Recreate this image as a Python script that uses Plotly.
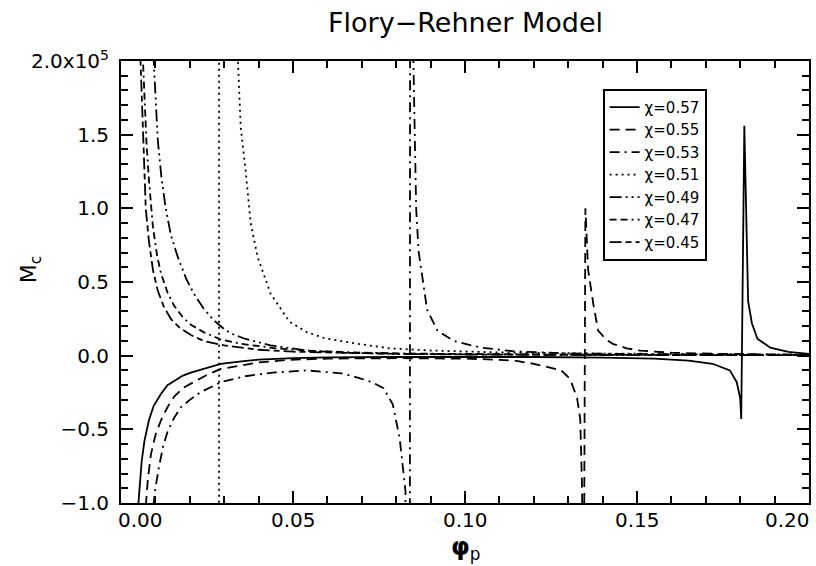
import plotly.graph_objects as go

# ---- data (M_c in units of 1e5) ----
chi_labels = ["χ=0.57", "χ=0.55", "χ=0.53", "χ=0.51", "χ=0.49", "χ=0.47", "χ=0.45"]

phi_057 = [0.0049, 0.0054, 0.0060, 0.0068, 0.0081, 0.0095, 0.0116, 0.0135, 0.0154, 0.0180,
           0.0203, 0.0250, 0.0290, 0.0350, 0.0400, 0.0500, 0.0600, 0.0800, 0.1000, 0.1200,
           0.1400, 0.1550, 0.1650, 0.1720, 0.1770, 0.1790, 0.1800, 0.1803, 0.1812, 0.1820,
           0.1823, 0.1834, 0.1850, 0.1887, 0.1940, 0.2000]
mc_057 = [-1.05, -0.88, -0.72, -0.58, -0.44, -0.34, -0.26, -0.20, -0.17, -0.135,
          -0.115, -0.08, -0.055, -0.038, -0.027, -0.017, -0.012, -0.009, -0.008, -0.009,
          -0.013, -0.020, -0.033, -0.055, -0.10, -0.18, -0.29, -0.43, 1.56, 0.71,
          0.37, 0.22, 0.115, 0.055, 0.025, 0.012]

phi_055 = [0.0072, 0.0078, 0.0087, 0.0100, 0.0116, 0.0135, 0.0154, 0.0180, 0.0203, 0.0250,
           0.0290, 0.0350, 0.0400, 0.0490, 0.0600, 0.0800, 0.1000, 0.1100, 0.1150, 0.1200,
           0.1240, 0.1280, 0.1306, 0.1326, 0.1335, 0.1340, 0.1345, 0.1350, 0.1358, 0.1373,
           0.1387, 0.1410, 0.1430, 0.1470, 0.1510, 0.1600, 0.1750, 0.2000]
mc_055 = [-1.02, -0.84, -0.67, -0.54, -0.44, -0.35, -0.28, -0.22, -0.19, -0.13,
          -0.09, -0.065, -0.046, -0.028, -0.020, -0.017, -0.020, -0.028, -0.036, -0.055,
          -0.075, -0.10, -0.16, -0.29, -0.43, -0.87, -2.0, 1.0, 0.58, 0.35,
          0.17, 0.11, 0.08, 0.05, 0.034, 0.02, 0.012, 0.006]

phi_053 = [0.0094, 0.0100, 0.0110, 0.0122, 0.0136, 0.0155, 0.0174, 0.0200, 0.0230, 0.0290,
           0.0360, 0.0440, 0.0540, 0.0640, 0.0690, 0.0730, 0.0763, 0.0790, 0.0810, 0.0820,
           0.0827, 0.0835, 0.0845, 0.0850, 0.0853, 0.0858, 0.0865, 0.0877, 0.0890, 0.0920,
           0.0967, 0.1045, 0.1140, 0.1300, 0.1500, 0.1750, 0.2000]
mc_053 = [-1.02, -0.90, -0.76, -0.62, -0.51, -0.42, -0.35, -0.30, -0.25, -0.18,
          -0.14, -0.115, -0.10, -0.12, -0.15, -0.18, -0.22, -0.33, -0.56, -0.76,
          -0.92, -30.0, 30.0, 2.0, 1.5, 1.0, 0.71, 0.53, 0.31, 0.17,
          0.10, 0.055, 0.03, 0.015, 0.01, 0.007, 0.005]

phi_051 = [0.0100, 0.0150, 0.0200, 0.0250, 0.0284, 0.0286, 0.0335, 0.0340, 0.0348, 0.0363,
           0.0377, 0.0397, 0.0435, 0.0490, 0.0540, 0.0590, 0.0690, 0.0780, 0.0900, 0.1100,
           0.1400, 0.1700, 0.2000]
mc_051 = [-4.5, -3.1, -2.9, -5.0, -40.0, 40.0, 2.1, 2.0, 1.55, 1.24,
          0.90, 0.67, 0.42, 0.23, 0.16, 0.12, 0.08, 0.05, 0.035, 0.022,
          0.014, 0.010, 0.008]

phi_049 = [0.0094, 0.0100, 0.0107, 0.0118, 0.0130, 0.0145, 0.0165, 0.0190, 0.0212, 0.0240,
           0.0270, 0.0300, 0.0320, 0.0360, 0.0435, 0.0540, 0.0650, 0.0800, 0.1000, 0.1300,
           0.1600, 0.2000]
mc_049 = [2.05, 1.75, 1.46, 1.20, 1.00, 0.82, 0.67, 0.52, 0.42, 0.32,
          0.24, 0.18, 0.15, 0.115, 0.07, 0.035, 0.020, 0.012, 0.008, 0.005,
          0.004, 0.003]

phi_047 = [0.0063, 0.0068, 0.0074, 0.0081, 0.0093, 0.0105, 0.0116, 0.0135, 0.0154, 0.0180,
           0.0203, 0.0240, 0.0290, 0.0350, 0.0450, 0.0550, 0.0700, 0.0900, 0.1100, 0.1400,
           0.1700, 0.2000]
mc_047 = [2.05, 1.75, 1.45, 1.20, 0.87, 0.68, 0.56, 0.43, 0.34, 0.26,
          0.21, 0.16, 0.11, 0.08, 0.05, 0.033, 0.020, 0.013, 0.009, 0.006,
          0.004, 0.003]

phi_045 = [0.0056, 0.0060, 0.0064, 0.0067, 0.0072, 0.0081, 0.0093, 0.0107, 0.0125, 0.0145,
           0.0170, 0.0203, 0.0240, 0.0300, 0.0400, 0.0500, 0.0650, 0.0800, 0.1000, 0.1300,
           0.1600, 0.2000]
mc_045 = [2.05, 1.75, 1.46, 1.25, 1.00, 0.78, 0.58, 0.44, 0.33, 0.25,
          0.19, 0.14, 0.10, 0.07, 0.04, 0.027, 0.017, 0.012, 0.008, 0.005,
          0.004, 0.003]

x_tick_vals = [0.00, 0.05, 0.10, 0.15, 0.20]
x_tick_text = ["0.00", "0.05", "0.10", "0.15", "0.20"]
y_tick_vals = [-1.0, -0.5, 0.0, 0.5, 1.0, 1.5, 2.0]
y_tick_text = ["−1.0", "−0.5", "0.0", "0.5", "1.0", "1.5", "2.0x10<sup>5</sup>"]

series_x = [phi_057, phi_055, phi_053, phi_051, phi_049, phi_047, phi_045]
series_y = [mc_057, mc_055, mc_053, mc_051, mc_049, mc_047, mc_045]
dashes = ["solid", "10px,6px", "10px,5px,2px,5px", "2px,4px",
          "12px,4px,2px,4px,2px,4px", "7px,4px,7px,4px,2px,4px", "12px,4px,6px,4px"]

FONT = "DejaVu Sans"

fig = go.Figure()
for name, xs, ys, d in zip(chi_labels, series_x, series_y, dashes):
    fig.add_trace(go.Scatter(x=xs, y=ys, mode="lines", name=name,
                             line=dict(color="black", width=1.8, dash=d)))

axis_common = dict(showline=True, linecolor="black", linewidth=2, mirror="ticks",
                   ticks="inside", tickcolor="black", tickwidth=1.5, ticklen=12,
                   showgrid=False, zeroline=False, automargin=False)

fig.update_xaxes(range=[0, 0.2], tickvals=x_tick_vals, showticklabels=False,
                 minor=dict(ticks="inside", ticklen=7, tickwidth=1.5, tickcolor="black",
                            tick0=0, dtick=0.01, showgrid=False),
                 **axis_common)
fig.update_yaxes(range=[-1, 2], tickvals=y_tick_vals, ticktext=y_tick_text,
                 tickfont=dict(family=FONT, size=20, color="black"),
                 ticklabelstandoff=6,
                 minor=dict(ticks="inside", ticklen=7, tickwidth=1.5, tickcolor="black",
                            tick0=0, dtick=0.1, showgrid=False),
                 **axis_common)

annotations = []
for v, t in zip(x_tick_vals, x_tick_text):
    anchor = "center"
    shift = 0
    if v == x_tick_vals[0]:
        anchor, shift = "left", -5
    elif v == x_tick_vals[-1]:
        anchor, shift = "right", 3
    annotations.append(dict(x=v, y=-0.038, xref="x", yref="paper", text=t,
                            xanchor=anchor, yanchor="middle", xshift=shift, showarrow=False,
                            font=dict(family=FONT, size=20, color="black")))
annotations.append(dict(x=0.5, y=1.086, xref="paper", yref="paper", text="Flory−Rehner Model",
                        xanchor="center", yanchor="middle", showarrow=False,
                        font=dict(family=FONT, size=27, color="black")))
annotations.append(dict(x=-0.132, y=0.527, xref="paper", yref="paper", text="M<sub>c</sub>",
                        textangle=-90, xanchor="center", yanchor="middle", showarrow=False,
                        font=dict(family=FONT, size=22, color="black")))
annotations.append(dict(x=0.5, y=-0.102, xref="paper", yref="paper", text="<b>φ</b><sub>p</sub>",
                        xanchor="center", yanchor="middle", showarrow=False,
                        font=dict(family=FONT, size=24, color="black")))

fig.update_layout(
    width=816, height=566,
    margin=dict(l=121, r=7, t=61, b=63, autoexpand=False),
    paper_bgcolor="white", plot_bgcolor="white",
    annotations=annotations,
    legend=dict(x=0.70, y=0.937, xanchor="left", yanchor="top",
                bgcolor="white", bordercolor="black", borderwidth=2,
                font=dict(family=FONT, size=15, color="black"),
                tracegroupgap=0, itemwidth=30),
    showlegend=True,
)

fig.write_html("out.html", config={"displayModeBar": False},
               post_script="document.body.style.margin='0';document.body.style.overflow='hidden';")
